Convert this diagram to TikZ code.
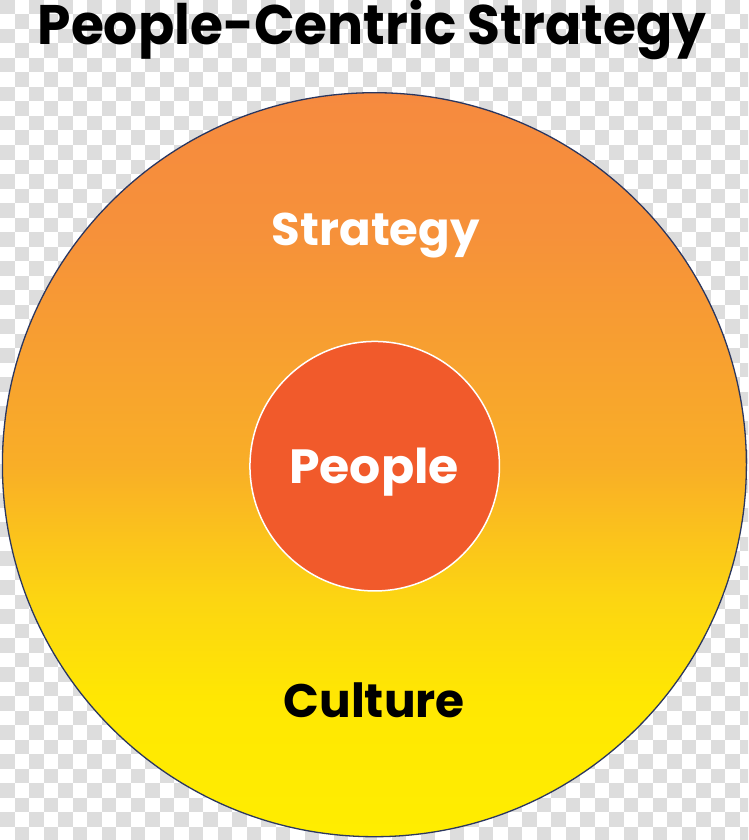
\documentclass[tikz,border=0pt]{standalone}
\usepackage{fontspec}
\setmainfont{Poppins}
\definecolor{checkgrey}{HTML}{DDDDDD}
\definecolor{ringline}{HTML}{2B3760}
\definecolor{peoplered}{HTML}{F15A2B}
\pgfdeclareverticalshading{ringshade}{100bp}{%
  color(0bp)=(rgb,255:red,255;green,237;blue,0);
  color(25bp)=(rgb,255:red,255;green,237;blue,0);
  color(34bp)=(rgb,255:red,255;green,232;blue,2);
  color(41bp)=(rgb,255:red,252;green,213;blue,18);
  color(50bp)=(rgb,255:red,249;green,174;blue,39);
  color(65.5bp)=(rgb,255:red,246;green,145;blue,58);
  color(75bp)=(rgb,255:red,246;green,138;blue,63);
  color(100bp)=(rgb,255:red,246;green,138;blue,63)}
\tikzset{
  label text/.style={anchor=base, inner sep=0pt, font=\bfseries},
}
\begin{document}
\begin{tikzpicture}[x=1pt,y=-1pt]
\useasboundingbox (0,0) rectangle (748,840);
\fill[white] (0,0) rectangle (748,840);
\begin{scope}
\clip (0,0) rectangle (748,840);
\foreach \i in {0,...,51}{
  \foreach \j in {0,...,57}{
    \pgfmathtruncatemacro{\s}{mod(\i+\j,2)}
    \ifnum\s=0
      \fill[checkgrey] (\i*14.5,\j*14.5) rectangle ++(14.5,14.5);
    \fi
  }
}
\end{scope}
\node[circle, minimum size=744pt, inner sep=0pt, draw=ringline, line width=1.3pt,
      shading=ringshade] (outer) at (374.4,464.7) {};
\node[circle, minimum size=249.5pt, inner sep=0pt, draw=white, line width=1.5pt,
      fill=peoplered] (inner) at (374.7,466.2) {};
\node[label text, text=black] (title) at (372,45) {\scalebox{0.96}[1]{\fontsize{55.7}{60}\selectfont People-Centric Strategy}};
\node[label text, text=white] (strategy) at (375.8,245) {\scalebox{1.02}[1]{\fontsize{45.7}{50}\selectfont Strategy}};
\node[label text, text=white] (people) at (374,483.3) {\scalebox{1.02}[1]{\fontsize{48}{50}\selectfont People}};
\node[label text, text=black] (culture) at (374.2,717.7) {\fontsize{47}{50}\selectfont Culture};
\end{tikzpicture}
\end{document}
